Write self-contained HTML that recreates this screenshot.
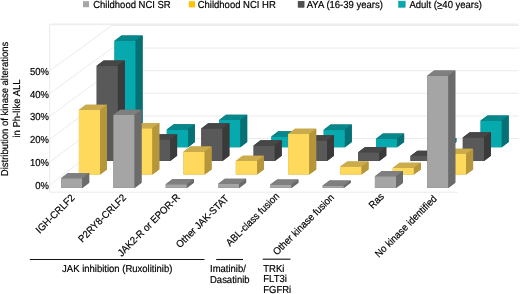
<!DOCTYPE html>
<html><head><meta charset="utf-8"><style>
html,body{margin:0;padding:0;background:#fff;width:520px;height:294px;overflow:hidden}
svg{display:block;will-change:transform}
.t{font-family:"Liberation Sans",sans-serif;font-size:10.1px;text-rendering:geometricPrecision;fill:#000;stroke:#000;stroke-width:0.2px}
</style></head><body>
<svg width="520" height="294" viewBox="0 0 520 294">
<g stroke="#ebebeb" stroke-width="1" fill="none"><line x1="50" y1="184.5" x2="112" y2="138.5"/><line x1="112" y1="138.5" x2="518.5" y2="138.5"/><line x1="50" y1="161.7" x2="112" y2="115.9"/><line x1="112" y1="115.9" x2="518.5" y2="115.9"/><line x1="50" y1="138.9" x2="112" y2="93.3"/><line x1="112" y1="93.3" x2="518.5" y2="93.3"/><line x1="50" y1="116.1" x2="112" y2="70.7"/><line x1="112" y1="70.7" x2="518.5" y2="70.7"/><line x1="50" y1="93.3" x2="112" y2="48.1"/><line x1="112" y1="48.1" x2="518.5" y2="48.1"/><line x1="50" y1="70.5" x2="112" y2="25.5"/><line x1="112" y1="25.5" x2="518.5" y2="25.5"/><line x1="49.7" y1="24" x2="49.7" y2="192.2"/><line x1="49.7" y1="24.4" x2="518.5" y2="24.4" stroke-width="1.6" stroke="#eeeeee"/><line x1="49.7" y1="192.2" x2="458" y2="192.2"/></g><g><path d="M114.5 147.2V40.8L121.4 35.6H142.6V142L135.7 147.2Z" fill="#067174"/><rect x="114.5" y="40.8" width="21.2" height="106.4" fill="#06a9ae"/><path d="M114.5 40.8L121.4 35.6H142.6L135.7 40.8Z" fill="#07878b"/><path d="M135.7 40.8L142.6 35.6V142L135.7 147.2Z" fill="#067174"/><path d="M166.8 147.2V129.5L173.7 124.3H194.9V142L188 147.2Z" fill="#067174"/><rect x="166.8" y="129.5" width="21.2" height="17.7" fill="#06a9ae"/><path d="M166.8 129.5L173.7 124.3H194.9L188 129.5Z" fill="#07878b"/><path d="M188 129.5L194.9 124.3V142L188 147.2Z" fill="#067174"/><path d="M219.1 147.2V120L226 114.8H247.2V142L240.3 147.2Z" fill="#067174"/><rect x="219.1" y="120" width="21.2" height="27.2" fill="#06a9ae"/><path d="M219.1 120L226 114.8H247.2L240.3 120Z" fill="#07878b"/><path d="M240.3 120L247.2 114.8V142L240.3 147.2Z" fill="#067174"/><path d="M271.4 147.2V136.5L278.3 131.3H299.5V142L292.6 147.2Z" fill="#067174"/><rect x="271.4" y="136.5" width="21.2" height="10.7" fill="#06a9ae"/><path d="M271.4 136.5L278.3 131.3H299.5L292.6 136.5Z" fill="#07878b"/><path d="M292.6 136.5L299.5 131.3V142L292.6 147.2Z" fill="#067174"/><path d="M323.7 147.2V129.8L330.6 124.6H351.8V142L344.9 147.2Z" fill="#067174"/><rect x="323.7" y="129.8" width="21.2" height="17.4" fill="#06a9ae"/><path d="M323.7 129.8L330.6 124.6H351.8L344.9 129.8Z" fill="#07878b"/><path d="M344.9 129.8L351.8 124.6V142L344.9 147.2Z" fill="#067174"/><path d="M376 147.2V138.8L382.9 133.6H404.1V142L397.2 147.2Z" fill="#067174"/><rect x="376" y="138.8" width="21.2" height="8.4" fill="#06a9ae"/><path d="M376 138.8L382.9 133.6H404.1L397.2 138.8Z" fill="#07878b"/><path d="M397.2 138.8L404.1 133.6V142L397.2 147.2Z" fill="#067174"/><path d="M428.3 147.2V143.2L435.2 138H456.4V142L449.5 147.2Z" fill="#067174"/><rect x="428.3" y="143.2" width="21.2" height="4" fill="#06a9ae"/><path d="M428.3 143.2L435.2 138H456.4L449.5 143.2Z" fill="#07878b"/><path d="M449.5 143.2L456.4 138V142L449.5 147.2Z" fill="#067174"/><path d="M480.6 147.2V120.6L487.5 115.4H508.7V142L501.8 147.2Z" fill="#067174"/><rect x="480.6" y="120.6" width="21.2" height="26.6" fill="#06a9ae"/><path d="M480.6 120.6L487.5 115.4H508.7L501.8 120.6Z" fill="#07878b"/><path d="M501.8 120.6L508.7 115.4V142L501.8 147.2Z" fill="#067174"/><path d="M96.7 160.9V65.7L103.6 60.5H124.8V155.7L117.9 160.9Z" fill="#3a3a3a"/><rect x="96.7" y="65.7" width="21.2" height="95.2" fill="#595959"/><path d="M96.7 65.7L103.6 60.5H124.8L117.9 65.7Z" fill="#464646"/><path d="M117.9 65.7L124.8 60.5V155.7L117.9 160.9Z" fill="#3a3a3a"/><path d="M149 160.9V139.4L155.9 134.2H177.1V155.7L170.2 160.9Z" fill="#3a3a3a"/><rect x="149" y="139.4" width="21.2" height="21.5" fill="#595959"/><path d="M149 139.4L155.9 134.2H177.1L170.2 139.4Z" fill="#464646"/><path d="M170.2 139.4L177.1 134.2V155.7L170.2 160.9Z" fill="#3a3a3a"/><path d="M201.3 160.9V128.4L208.2 123.2H229.4V155.7L222.5 160.9Z" fill="#3a3a3a"/><rect x="201.3" y="128.4" width="21.2" height="32.5" fill="#595959"/><path d="M201.3 128.4L208.2 123.2H229.4L222.5 128.4Z" fill="#464646"/><path d="M222.5 128.4L229.4 123.2V155.7L222.5 160.9Z" fill="#3a3a3a"/><path d="M253.6 160.9V145.5L260.5 140.3H281.7V155.7L274.8 160.9Z" fill="#3a3a3a"/><rect x="253.6" y="145.5" width="21.2" height="15.4" fill="#595959"/><path d="M253.6 145.5L260.5 140.3H281.7L274.8 145.5Z" fill="#464646"/><path d="M274.8 145.5L281.7 140.3V155.7L274.8 160.9Z" fill="#3a3a3a"/><path d="M305.9 160.9V140.4L312.8 135.2H334V155.7L327.1 160.9Z" fill="#3a3a3a"/><rect x="305.9" y="140.4" width="21.2" height="20.5" fill="#595959"/><path d="M305.9 140.4L312.8 135.2H334L327.1 140.4Z" fill="#464646"/><path d="M327.1 140.4L334 135.2V155.7L327.1 160.9Z" fill="#3a3a3a"/><path d="M358.2 160.9V152.2L365.1 147H386.3V155.7L379.4 160.9Z" fill="#3a3a3a"/><rect x="358.2" y="152.2" width="21.2" height="8.7" fill="#595959"/><path d="M358.2 152.2L365.1 147H386.3L379.4 152.2Z" fill="#464646"/><path d="M379.4 152.2L386.3 147V155.7L379.4 160.9Z" fill="#3a3a3a"/><path d="M410.5 160.9V155.9L417.4 150.7H438.6V155.7L431.7 160.9Z" fill="#3a3a3a"/><rect x="410.5" y="155.9" width="21.2" height="5" fill="#595959"/><path d="M410.5 155.9L417.4 150.7H438.6L431.7 155.9Z" fill="#464646"/><path d="M431.7 155.9L438.6 150.7V155.7L431.7 160.9Z" fill="#3a3a3a"/><path d="M462.8 160.9V137.4L469.7 132.2H490.9V155.7L484 160.9Z" fill="#3a3a3a"/><rect x="462.8" y="137.4" width="21.2" height="23.5" fill="#595959"/><path d="M462.8 137.4L469.7 132.2H490.9L484 137.4Z" fill="#464646"/><path d="M484 137.4L490.9 132.2V155.7L484 160.9Z" fill="#3a3a3a"/><path d="M78.9 174.6V110L85.8 104.8H107V169.4L100.1 174.6Z" fill="#b5963b"/><rect x="78.9" y="110" width="21.2" height="64.6" fill="#fed95c"/><path d="M78.9 110L85.8 104.8H107L100.1 110Z" fill="#cbab4c"/><path d="M100.1 110L107 104.8V169.4L100.1 174.6Z" fill="#b5963b"/><path d="M131.2 174.6V128.3L138.1 123.1H159.3V169.4L152.4 174.6Z" fill="#b5963b"/><rect x="131.2" y="128.3" width="21.2" height="46.3" fill="#fed95c"/><path d="M131.2 128.3L138.1 123.1H159.3L152.4 128.3Z" fill="#cbab4c"/><path d="M152.4 128.3L159.3 123.1V169.4L152.4 174.6Z" fill="#b5963b"/><path d="M183.5 174.6V151.8L190.4 146.6H211.6V169.4L204.7 174.6Z" fill="#b5963b"/><rect x="183.5" y="151.8" width="21.2" height="22.8" fill="#fed95c"/><path d="M183.5 151.8L190.4 146.6H211.6L204.7 151.8Z" fill="#cbab4c"/><path d="M204.7 151.8L211.6 146.6V169.4L204.7 174.6Z" fill="#b5963b"/><path d="M235.8 174.6V161L242.7 155.8H263.9V169.4L257 174.6Z" fill="#b5963b"/><rect x="235.8" y="161" width="21.2" height="13.6" fill="#fed95c"/><path d="M235.8 161L242.7 155.8H263.9L257 161Z" fill="#cbab4c"/><path d="M257 161L263.9 155.8V169.4L257 174.6Z" fill="#b5963b"/><path d="M288.1 174.6V133.9L295 128.7H316.2V169.4L309.3 174.6Z" fill="#b5963b"/><rect x="288.1" y="133.9" width="21.2" height="40.7" fill="#fed95c"/><path d="M288.1 133.9L295 128.7H316.2L309.3 133.9Z" fill="#cbab4c"/><path d="M309.3 133.9L316.2 128.7V169.4L309.3 174.6Z" fill="#b5963b"/><path d="M340.4 174.6V166.6L347.3 161.4H368.5V169.4L361.6 174.6Z" fill="#b5963b"/><rect x="340.4" y="166.6" width="21.2" height="8" fill="#fed95c"/><path d="M340.4 166.6L347.3 161.4H368.5L361.6 166.6Z" fill="#cbab4c"/><path d="M361.6 166.6L368.5 161.4V169.4L361.6 174.6Z" fill="#b5963b"/><path d="M392.7 174.6V168L399.6 162.8H420.8V169.4L413.9 174.6Z" fill="#b5963b"/><rect x="392.7" y="168" width="21.2" height="6.6" fill="#fed95c"/><path d="M392.7 168L399.6 162.8H420.8L413.9 168Z" fill="#cbab4c"/><path d="M413.9 168L420.8 162.8V169.4L413.9 174.6Z" fill="#b5963b"/><path d="M445 174.6V154L451.9 148.8H473.1V169.4L466.2 174.6Z" fill="#b5963b"/><rect x="445" y="154" width="21.2" height="20.6" fill="#fed95c"/><path d="M445 154L451.9 148.8H473.1L466.2 154Z" fill="#cbab4c"/><path d="M466.2 154L473.1 148.8V169.4L466.2 174.6Z" fill="#b5963b"/><path d="M61.1 187.9V178.3L68 173.1H89.2V182.7L82.3 187.9Z" fill="#6b6b6b"/><rect x="61.1" y="178.3" width="21.2" height="9.6" fill="#a5a5a5"/><path d="M61.1 178.3L68 173.1H89.2L82.3 178.3Z" fill="#7f7f7f"/><path d="M82.3 178.3L89.2 173.1V182.7L82.3 187.9Z" fill="#6b6b6b"/><path d="M113.4 187.9V115L120.3 109.8H141.5V182.7L134.6 187.9Z" fill="#6b6b6b"/><rect x="113.4" y="115" width="21.2" height="72.9" fill="#a5a5a5"/><path d="M113.4 115L120.3 109.8H141.5L134.6 115Z" fill="#7f7f7f"/><path d="M134.6 115L141.5 109.8V182.7L134.6 187.9Z" fill="#6b6b6b"/><path d="M165.7 187.9V184.3L172.6 179.1H193.8V182.7L186.9 187.9Z" fill="#6b6b6b"/><rect x="165.7" y="184.3" width="21.2" height="3.6" fill="#a5a5a5"/><path d="M165.7 184.3L172.6 179.1H193.8L186.9 184.3Z" fill="#7f7f7f"/><path d="M186.9 184.3L193.8 179.1V182.7L186.9 187.9Z" fill="#6b6b6b"/><path d="M218 187.9V184L224.9 178.8H246.1V182.7L239.2 187.9Z" fill="#6b6b6b"/><rect x="218" y="184" width="21.2" height="3.9" fill="#a5a5a5"/><path d="M218 184L224.9 178.8H246.1L239.2 184Z" fill="#7f7f7f"/><path d="M239.2 184L246.1 178.8V182.7L239.2 187.9Z" fill="#6b6b6b"/><path d="M270.3 187.9V184.6L277.2 179.4H298.4V182.7L291.5 187.9Z" fill="#6b6b6b"/><rect x="270.3" y="184.6" width="21.2" height="3.3" fill="#a5a5a5"/><path d="M270.3 184.6L277.2 179.4H298.4L291.5 184.6Z" fill="#7f7f7f"/><path d="M291.5 184.6L298.4 179.4V182.7L291.5 187.9Z" fill="#6b6b6b"/><path d="M322.6 187.9V185.8L329.5 180.6H350.7V182.7L343.8 187.9Z" fill="#6b6b6b"/><rect x="322.6" y="185.8" width="21.2" height="2.1" fill="#a5a5a5"/><path d="M322.6 185.8L329.5 180.6H350.7L343.8 185.8Z" fill="#7f7f7f"/><path d="M343.8 185.8L350.7 180.6V182.7L343.8 187.9Z" fill="#6b6b6b"/><path d="M374.9 187.9V176.3L381.8 171.1H403V182.7L396.1 187.9Z" fill="#6b6b6b"/><rect x="374.9" y="176.3" width="21.2" height="11.6" fill="#a5a5a5"/><path d="M374.9 176.3L381.8 171.1H403L396.1 176.3Z" fill="#7f7f7f"/><path d="M396.1 176.3L403 171.1V182.7L396.1 187.9Z" fill="#6b6b6b"/><path d="M427.2 187.9V75.8L434.1 70.6H455.3V182.7L448.4 187.9Z" fill="#6b6b6b"/><rect x="427.2" y="75.8" width="21.2" height="112.1" fill="#a5a5a5"/><path d="M427.2 75.8L434.1 70.6H455.3L448.4 75.8Z" fill="#7f7f7f"/><path d="M448.4 75.8L455.3 70.6V182.7L448.4 187.9Z" fill="#6b6b6b"/></g><g class="t"><text transform="translate(49 188.8) scale(0.94 1)" text-anchor="end">0%</text><text transform="translate(49 166) scale(0.94 1)" text-anchor="end">10%</text><text transform="translate(49 143.2) scale(0.94 1)" text-anchor="end">20%</text><text transform="translate(49 120.4) scale(0.94 1)" text-anchor="end">30%</text><text transform="translate(49 97.6) scale(0.94 1)" text-anchor="end">40%</text><text transform="translate(49 74.8) scale(0.94 1)" text-anchor="end">50%</text><text transform="translate(7.5 108.9) rotate(-90) scale(0.94 1)" text-anchor="middle">Distribution of kinase alterations</text><text transform="translate(20.3 108.5) rotate(-90) scale(0.94 1)" text-anchor="middle">in Ph-like ALL</text><text transform="translate(75.2 198.5) rotate(-45) scale(0.94 1)" text-anchor="end">IGH-CRLF2</text><text transform="translate(126.8 198.3) rotate(-45) scale(0.94 1)" text-anchor="end">P2RY8-CRLF2</text><text transform="translate(180.6 198) rotate(-45) scale(0.94 1)" text-anchor="end">JAK2-R or EPOR-R</text><text transform="translate(229.4 199.1) rotate(-45) scale(0.94 1)" text-anchor="end">Other JAK-STAT</text><text transform="translate(280 196.8) rotate(-45) scale(0.94 1)" text-anchor="end">ABL-class fusion</text><text transform="translate(334.8 198) rotate(-45) scale(0.94 1)" text-anchor="end">Other kinase fusion</text><text transform="translate(384.6 197.2) rotate(-45) scale(0.94 1)" text-anchor="end">Ras</text><text transform="translate(437.5 199.4) rotate(-45) scale(0.94 1)" text-anchor="end">No kinase identified</text><text transform="translate(93.2 7.8) scale(0.94 1)">Childhood NCI SR</text><text transform="translate(197.7 7.8) scale(0.94 1)">Childhood NCI HR</text><text transform="translate(306.7 7.8) scale(0.94 1)">AYA (16-39 years)</text><text transform="translate(409.4 7.8) scale(0.94 1)">Adult (&gt;40 years)</text><text transform="translate(62.1 271.9) scale(0.94 1)">JAK inhibition (Ruxolitinib)</text><text transform="translate(210 271.8) scale(0.94 1)">Imatinib/</text><text transform="translate(210 282.6) scale(0.94 1)">Dasatinib</text><text transform="translate(263.3 271.6) scale(0.94 1)">TRKi</text><text transform="translate(263.3 282.3) scale(0.94 1)">FLT3i</text><text transform="translate(263.3 292.9) scale(0.94 1)">FGFRi</text></g><rect x="83" y="1.2" width="6" height="6" fill="#a6a6a6"/><rect x="188.8" y="1.2" width="6.2" height="6.2" fill="#fcc400"/><rect x="298.1" y="1.3" width="6" height="6" fill="#4f4f4f" stroke="#2e2e2e" stroke-width="0.5"/><rect x="398.6" y="1.1" width="6.6" height="6.2" fill="#04a8ad" stroke="#0a979b" stroke-width="0.5"/><rect x="437.6" y="8.2" width="4.8" height="0.8" fill="#000"/><g stroke="#111" stroke-width="1.1"><line x1="29.8" y1="259.5" x2="204.5" y2="259.5"/><line x1="216.2" y1="259.5" x2="243" y2="259.5"/><line x1="262.7" y1="259.2" x2="290.5" y2="259.2"/></g>
</svg></body></html>
